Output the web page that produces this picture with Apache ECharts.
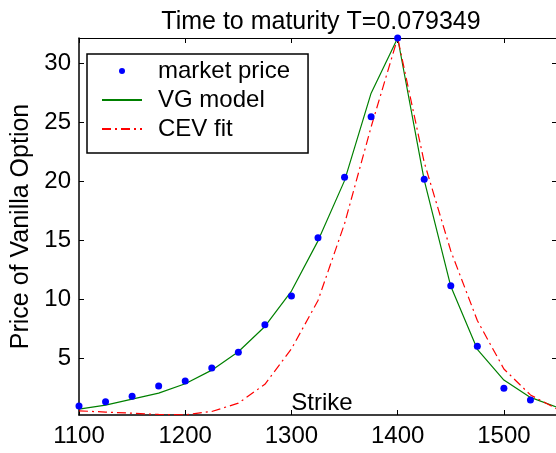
<!DOCTYPE html>
<html>
<head>
<meta charset="utf-8">
<title>Time to maturity</title>
<script src="https://cdn.jsdelivr.net/npm/echarts@6/dist/echarts.min.js"></script>
<style>
  html, body { margin: 0; padding: 0; background: #fff; }
  #chart { width: 556px; height: 453px; }
</style>
</head>
<body>
<div id="chart"></div>
<script>
// strikes and prices
var strikes = [1100, 1125, 1150, 1175, 1200, 1225, 1250, 1275, 1300, 1325,
  1350, 1375, 1400, 1425, 1450, 1475, 1500, 1525, 1550];
var marketPrice = [0.96, 1.32, 1.78, 2.65, 3.08, 4.18, 5.51, 7.85, 10.28, 15.22,
  20.34, 25.45, 32.13, 20.17, 11.15, 6.02, 2.46, 1.47];
var vgModel = [0.70, 1.04, 1.55, 2.05, 2.85, 4.0, 5.56, 7.7, 10.7, 14.95,
  20.05, 27.46, 32.13, 20.1, 11.1, 5.76, 3.16, 1.69, 0.85];
var cevFit = [0.55, 0.45, 0.35, 0.25, 0.22, 0.5, 1.2, 2.8, 5.8, 9.9,
  16.4, 24.6, 32.13, 21.6, 14.1, 8.2, 4.1, 1.9, 0.7];

var xTicks = [1100, 1200, 1300, 1400, 1500];
var yTicks = [5, 10, 15, 20, 25, 30];

var FONT = 'Liberation Sans';

function pairs(vals) {
  return vals.map(function (v, i) { return [strikes[i], v]; });
}

var myChart = echarts.init(document.getElementById('chart'));

var xRange = { min: 1100, max: 1550 };
var yRange = { min: 0.2, max: 32.13 };

var option = {
  animation: false,
  backgroundColor: '#fff',
  textStyle: { fontFamily: FONT, color: '#000' },
  title: {
    text: 'Time to maturity T=0.079349',
    left: 316,
    top: 5,
    textAlign: 'center',
    textStyle: { fontFamily: FONT, fontSize: 25, fontWeight: 'normal', color: '#000' }
  },
  legend: {
    orient: 'vertical',
    left: 87,
    top: 54,
    padding: [5, 18, 12, 14],
    itemGap: 5,
    itemWidth: 40,
    itemHeight: 6,
    borderColor: '#000',
    borderWidth: 1.5,
    backgroundColor: '#fff',
    textStyle: { fontFamily: FONT, fontSize: 24, color: '#000', lineHeight: 24, padding: [0, 0, 0, 11] },
    data: [
      { name: 'market price', icon: 'circle', itemStyle: { opacity: 1 } },
      { name: 'VG model', itemStyle: { opacity: 0 } },
      { name: 'CEV fit', itemStyle: { opacity: 0 } }
    ]
  },
  grid: { left: 79, right: -1, top: 38, bottom: 38, containLabel: false, outerBoundsMode: 'none' },
  xAxis: [{
    type: 'value',
    min: xRange.min,
    max: xRange.max,
    name: 'Strike',
    nameLocation: 'middle',
    nameGap: 0,
    nameMoveOverlap: false,
    nameTextStyle: { fontFamily: FONT, fontSize: 24, color: '#000', verticalAlign: 'bottom', padding: [0, 0, 0, 8] },
    axisLine: { lineStyle: { color: '#000', width: 1.5 } },
    axisTick: { inside: true, length: 5, customValues: xTicks, lineStyle: { color: '#000' } },
    axisLabel: {
      customValues: xTicks, fontFamily: FONT, fontSize: 24, color: '#000', margin: 9,
      formatter: function (v) { return String(v); }
    },
    splitLine: { show: false }
  }, {
    type: 'value',
    position: 'top',
    min: xRange.min,
    max: xRange.max,
    axisLine: { lineStyle: { color: '#000', width: 1 } },
    axisTick: { inside: true, length: 5, customValues: xTicks, lineStyle: { color: '#000' } },
    axisLabel: { show: false },
    splitLine: { show: false }
  }],
  yAxis: [{
    type: 'value',
    min: yRange.min,
    max: yRange.max,
    name: 'Price of Vanilla Option',
    nameLocation: 'middle',
    nameRotate: 90,
    nameGap: 44,
    nameTextStyle: { fontFamily: FONT, fontSize: 25, color: '#000' },
    axisLine: { lineStyle: { color: '#000', width: 1.5 } },
    axisTick: { inside: true, length: 5, customValues: yTicks, lineStyle: { color: '#000' } },
    axisLabel: { customValues: yTicks, fontFamily: FONT, fontSize: 24, color: '#000', margin: 8 },
    splitLine: { show: false }
  }, {
    type: 'value',
    position: 'right',
    min: yRange.min,
    max: yRange.max,
    axisLine: { show: false },
    axisTick: { inside: true, length: 5, customValues: yTicks, lineStyle: { color: '#000' } },
    axisLabel: { show: false },
    splitLine: { show: false }
  }],
  series: [{
    name: 'market price',
    type: 'scatter',
    data: pairs(marketPrice),
    symbol: 'circle',
    symbolSize: 7,
    clip: false,
    itemStyle: { color: '#0000ff', opacity: 1 },
    z: 5
  }, {
    name: 'VG model',
    type: 'line',
    data: pairs(vgModel),
    showSymbol: false,
    symbol: 'none',
    lineStyle: { color: '#008000', width: 1.2 },
    itemStyle: { color: '#008000' }
  }, {
    name: 'CEV fit',
    type: 'line',
    data: pairs(cevFit),
    showSymbol: false,
    symbol: 'none',
    lineStyle: { color: '#ff0000', width: 1.2, type: [9, 4, 2, 4] },
    itemStyle: { color: '#ff0000' }
  }]
};

myChart.setOption(option);
</script>
</body>
</html>
